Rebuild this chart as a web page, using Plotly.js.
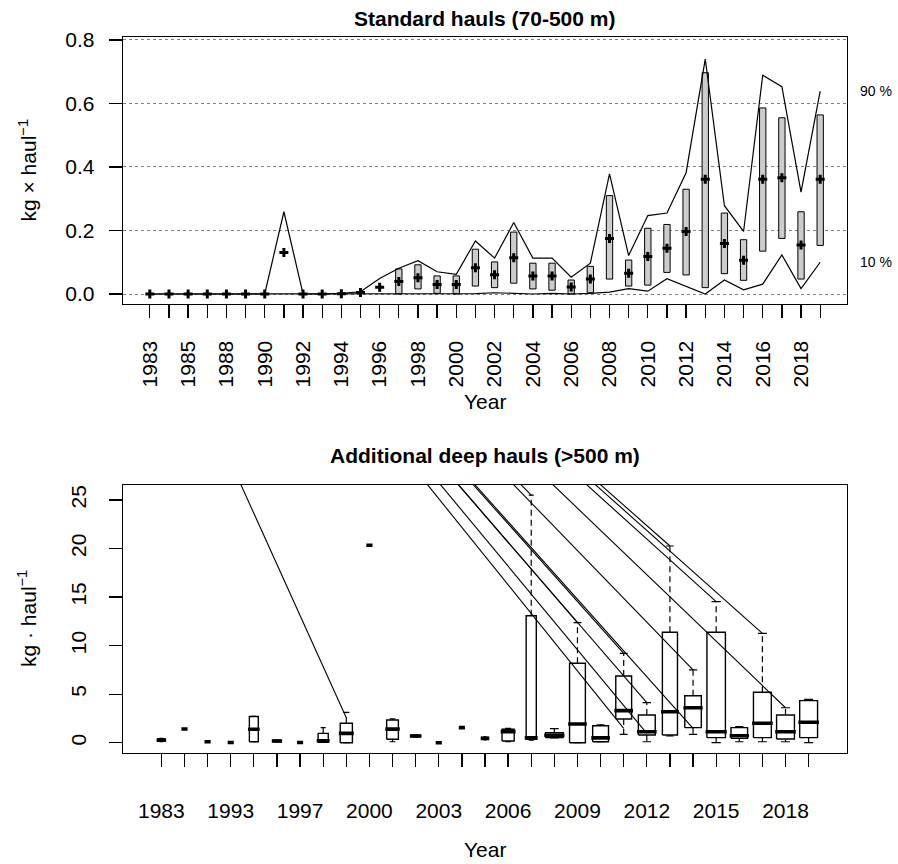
<!DOCTYPE html>
<html><head><meta charset="utf-8">
<script src="https://cdn.plot.ly/plotly-3.0.1.min.js"></script>
<style>body{margin:0;background:#fff}#chart{width:898px;height:864px}</style>
</head><body><div id="chart"></div>
<script>
// ---------------- Top panel: standard hauls (70-500 m) ----------------
const stdYears = [1983,1984,1985,1986,1988,1989,1990,1991,1992,1993,1994,1995,1996,1997,1998,1999,2000,2001,2002,2003,2004,2005,2006,2007,2008,2009,2010,2011,2012,2013,2014,2015,2016,2017,2018,2019];
const stdMean  = [0,0,0,0,0,0,0,0.131,0,0,0.001,0.005,0.021,0.039,0.051,0.030,0.030,0.083,0.061,0.114,0.057,0.057,0.022,0.047,0.175,0.065,0.118,0.144,0.197,0.361,0.159,0.106,0.361,0.366,0.154,0.361];
const stdCiLow = [null,null,null,null,null,null,null,null,null,null,null,null,null,0,0.016,0.002,0,0.025,0.020,0.034,0.016,0.012,0,0.004,0.047,0.025,0.028,0.068,0.060,0.020,0.064,0.043,0.135,0.175,0.047,0.153];
const stdCiHigh= [null,null,null,null,null,null,null,null,null,null,null,null,null,0.079,0.092,0.057,0.057,0.141,0.101,0.195,0.097,0.097,0.044,0.087,0.310,0.107,0.207,0.219,0.330,0.697,0.255,0.171,0.586,0.555,0.259,0.564];
const stdQ90   = [0,0,0,0,0,0,0,0.259,0,0,0.002,0.007,0.049,0.081,0.105,0.070,0.062,0.167,0.113,0.225,0.113,0.113,0.053,0.097,0.378,0.121,0.247,0.255,0.382,0.740,0.278,0.197,0.689,0.653,0.321,0.639];
const stdQ10   = [0,0,0,0,0,0,0,0,0,0,0,0,0,0,0,0,0,0.001,0.004,0.001,0,0.002,0,0.002,0.006,0.017,0.009,0.048,0.025,0,0.044,0.013,0.031,0.123,0.017,0.100];

// ---------------- Bottom panel: additional deep hauls (>500 m) ----------------
const deepYears = [1983,1985,1991,1993,1994,1995,1997,1998,1999,2000,2001,2002,2003,2004,2005,2006,2007,2008,2009,2010,2011,2012,2013,2014,2015,2016,2017,2018,2019];
const deepLow  = [0.10,1.41,0.10,0.02,0.10,0.08,0.02,0.04,0.00,20.33,0.10,0.60,0.00,1.55,0.30,0.10,0.25,0.50,0.00,0.10,0.86,0.10,0.69,0.86,0.00,0.10,0.10,0.10,0.00];
const deepQ1   = [0.15,1.41,0.10,0.02,0.10,0.10,0.02,0.05,0.00,20.33,0.35,0.62,0.00,1.55,0.35,0.17,0.35,0.52,0.00,0.10,2.44,0.79,0.79,1.55,0.52,0.45,0.52,0.38,0.52];
const deepMed  = [0.25,1.41,0.10,0.02,1.38,0.17,0.02,0.20,0.96,20.33,1.40,0.69,0.00,1.55,0.45,1.13,0.50,0.77,1.93,0.50,3.30,1.13,3.19,3.60,1.13,0.72,2.00,1.13,2.10];
const deepQ3   = [0.40,1.41,0.10,0.02,2.70,0.25,0.02,0.96,2.00,20.33,2.34,0.76,0.00,1.55,0.55,1.38,13.08,1.03,8.18,1.75,6.87,2.85,11.37,4.84,11.37,1.55,5.19,2.85,4.33];
const deepHigh = [0.45,1.41,0.10,0.02,2.72,0.25,0.02,1.55,3.13,20.33,2.45,0.78,0.00,1.55,0.60,1.48,25.50,1.44,12.36,1.85,9.20,4.12,20.26,7.49,14.52,1.65,11.26,3.60,4.47];
const deepN    = [4,1,1,1,7,5,1,9,13,1,12,7,1,1,3,13,9,27,22,22,22,25,20,24,30,24,28,28,28];

// stray connector lines in the lower panel: common far origin to target points
const strayOriginPos = -5.9, strayOriginValue = 81;
const strayTargetYear  = [1999,2007,2009,2011,2012,2013,2014,2015,2017,2018,2011,2012,2014];
const strayTargetValue = [2.57,25.5,12.36,9.2,4.12,20.26,7.49,14.52,11.26,3.6,1.48,0.97,1.48];

// ---------------- geometry helpers ----------------
const W = 898, H = 864;
const px = x => x / W, py = y => 1 - y / H;
const FONT = 'Liberation Sans, Arial, Helvetica, sans-serif';

const stdPos = stdYears.map((_, i) => i + 1);
const deepPos = deepYears.map((_, i) => i + 1);
const posOfDeep = yr => deepYears.indexOf(yr) + 1;

const traces = [];
// top panel
traces.push({x: stdPos, y: stdQ90, mode: 'lines', line: {color: '#000', width: 1.2}, xaxis: 'x', yaxis: 'y', hoverinfo: 'skip'});
traces.push({x: stdPos, y: stdQ10, mode: 'lines', line: {color: '#000', width: 1.2}, xaxis: 'x', yaxis: 'y', hoverinfo: 'skip'});
traces.push({type: 'bar', x: stdPos, base: stdCiLow,
  y: stdCiHigh.map((h, i) => h === null ? null : h - stdCiLow[i]),
  width: 0.33, marker: {color: '#cccccc', line: {color: '#000', width: 1}}, xaxis: 'x', yaxis: 'y', hoverinfo: 'skip'});
traces.push({x: stdPos, y: stdMean, mode: 'markers', marker: {symbol: 'cross', size: 7.5, color: '#000'}, xaxis: 'x', yaxis: 'y', hoverinfo: 'skip'});

// bottom panel
const nMax = Math.max(...deepN);
const half = deepN.map(n => 0.4 * Math.sqrt(n / nMax));
const sx = [], sy = [];
strayTargetYear.forEach((yr, i) => { sx.push(strayOriginPos, posOfDeep(yr), null); sy.push(strayOriginValue, strayTargetValue[i], null); });
traces.push({x: sx, y: sy, mode: 'lines', line: {color: '#000', width: 1.1}, xaxis: 'x2', yaxis: 'y2', hoverinfo: 'skip'});

const bx = [], by = [], wx = [], wy = [], cx = [], cy = [], mx = [], my = [];
deepPos.forEach((p, i) => {
  const h = half[i];
  if (deepQ3[i] > deepQ1[i]) {
    bx.push(p - h, p + h, p + h, p - h, p - h, null);
    by.push(deepQ1[i], deepQ1[i], deepQ3[i], deepQ3[i], deepQ1[i], null);
  }
  if (deepHigh[i] > deepQ3[i]) { wx.push(p, p, null); wy.push(deepQ3[i], deepHigh[i], null); }
  if (deepLow[i] < deepQ1[i]) { wx.push(p, p, null); wy.push(deepQ1[i], deepLow[i], null); }
  if (deepHigh[i] > deepLow[i]) {
    cx.push(p - h / 2, p + h / 2, null, p - h / 2, p + h / 2, null);
    cy.push(deepHigh[i], deepHigh[i], null, deepLow[i], deepLow[i], null);
  }
  mx.push(p - h - 0.06, p + h + 0.06, null); my.push(deepMed[i], deepMed[i], null);
});
traces.push({x: wx, y: wy, mode: 'lines', line: {color: '#000', width: 1.2, dash: '6px,4px'}, xaxis: 'x2', yaxis: 'y2', hoverinfo: 'skip'});
traces.push({x: cx, y: cy, mode: 'lines', line: {color: '#000', width: 1.2}, xaxis: 'x2', yaxis: 'y2', hoverinfo: 'skip'});
traces.push({x: bx, y: by, mode: 'lines', line: {color: '#000', width: 1.4}, xaxis: 'x2', yaxis: 'y2', hoverinfo: 'skip'});
traces.push({x: mx, y: my, mode: 'lines', line: {color: '#000', width: 3.6}, xaxis: 'x2', yaxis: 'y2', hoverinfo: 'skip'});

const axBase = {showline: true, mirror: true, linecolor: '#000', linewidth: 1.3, ticks: 'outside', ticklen: 13,
  tickwidth: 1.3, tickcolor: '#000', zeroline: false, showgrid: false, automargin: false, fixedrange: true,
  tickfont: {family: FONT, size: 21, color: '#000'}};
const minorAll = vals => ({tickmode: 'array', tickvals: vals, ticks: 'outside', ticklen: 13, tickwidth: 1.3, tickcolor: '#000', showgrid: false});

const stdLabelled = stdPos.filter((_, i) => i % 2 === 0);
const deepLabelled = deepPos.filter((_, i) => i % 3 === 0);

const ann = (text, x, y, extra) => Object.assign({text, x, y, xref: 'paper', yref: 'paper', xanchor: 'center', yanchor: 'middle',
  showarrow: false, font: {family: FONT, size: 21, color: '#000'}}, extra || {});

const layout = {
  width: W, height: H, margin: {l: 0, r: 0, t: 0, b: 0}, showlegend: false,
  paper_bgcolor: '#fff', plot_bgcolor: '#fff', barmode: 'overlay',
  xaxis: Object.assign({}, axBase, {domain: [px(123), px(847)], anchor: 'y', range: [-0.4, 37.4],
    tickmode: 'array', tickvals: stdLabelled, ticktext: stdLabelled.map(p => String(stdYears[p - 1])),
    minor: minorAll(stdPos), tickangle: -90, ticklabelstandoff: 14}),
  yaxis: Object.assign({}, axBase, {domain: [py(304), py(37)], anchor: 'x', range: [-0.0315, 0.8094],
    tickmode: 'array', tickvals: [0, 0.2, 0.4, 0.6, 0.8], ticktext: ['0.0', '0.2', '0.4', '0.6', '0.8'],
    showgrid: true, gridcolor: '#808080', gridwidth: 1, griddash: '3px,3px', ticklabelstandoff: 10}),
  xaxis2: Object.assign({}, axBase, {domain: [px(123), px(847)], anchor: 'y2', range: [-0.66, 30.66],
    tickmode: 'array', tickvals: deepLabelled, ticktext: deepLabelled.map(p => String(deepYears[p - 1])),
    minor: minorAll(deepPos), tickangle: 0, ticklabelstandoff: 26}),
  yaxis2: Object.assign({}, axBase, {domain: [py(752.7), py(485)], anchor: 'x2', range: [-1.03, 26.54],
    tickmode: 'array', tickvals: [0, 5, 10, 15, 20, 25], ticktext: ['0', '5', '10', '15', '20', '25'],
    tickangle: -90, ticklabelstandoff: 14}),
  annotations: [
    ann('<b>Standard hauls (70-500 m)</b>', px(485), py(18)),
    ann('<b>Additional deep hauls (>500 m)</b>', px(485), py(455)),
    ann('Year', px(485), py(401)),
    ann('Year', px(485), py(849)),
    ann('kg × haul<sup>−1</sup>', px(27), py(170.5), {textangle: -90}),
    ann('kg · haul<sup>−1</sup>', px(27), py(619), {textangle: -90}),
    ann('90 %', px(858), stdQ90[stdQ90.length - 1], {xanchor: 'left', yref: 'y', font: {family: FONT, size: 14, color: '#000'}}),
    ann('10 %', px(858), stdQ10[stdQ10.length - 1], {xanchor: 'left', yref: 'y', font: {family: FONT, size: 14, color: '#000'}})
  ]
};

Plotly.newPlot('chart', traces, layout, {staticPlot: true, displayModeBar: false});
</script>
</body></html>
